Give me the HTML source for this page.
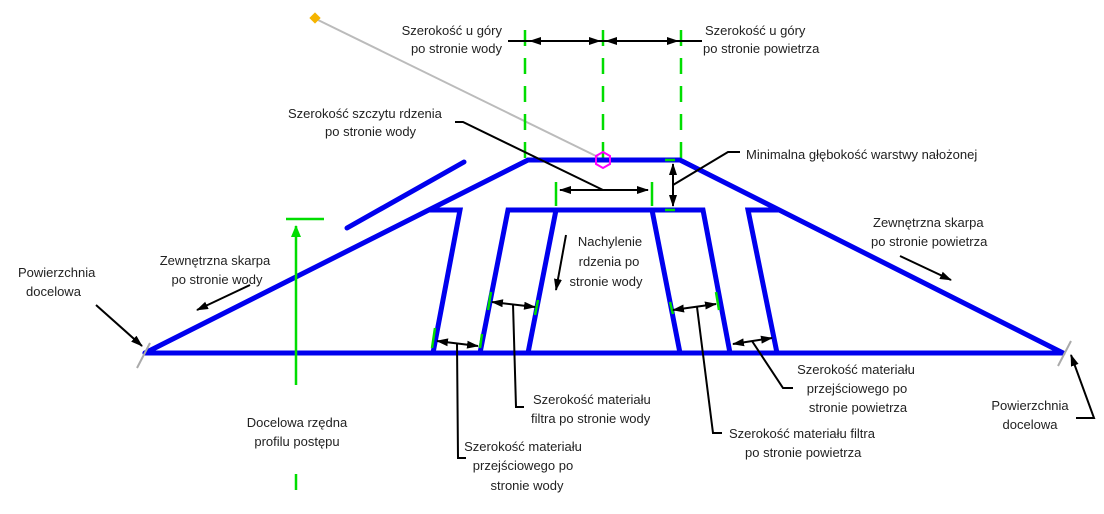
<!DOCTYPE html>
<html><head><meta charset="utf-8"><style>
html,body{margin:0;padding:0;background:#fff;}
svg{display:block;}
text{font-family:"Liberation Sans",sans-serif;font-size:13px;fill:#222;}
</style></head><body>
<svg width="1104" height="514" viewBox="0 0 1104 514" xmlns="http://www.w3.org/2000/svg">
<defs>
<marker id="a" viewBox="0 0 12 8" refX="11" refY="4" markerWidth="12" markerHeight="8" markerUnits="userSpaceOnUse" orient="auto-start-reverse"><path d="M0,0L12,4L0,8z" fill="#000"/></marker>
<marker id="g" viewBox="0 0 12 10" refX="11" refY="5" markerWidth="12" markerHeight="14" markerUnits="userSpaceOnUse" orient="auto"><path d="M0,0L12,5L0,10z" fill="#0d0"/></marker>
</defs>
<line x1="316" y1="19" x2="598" y2="157" stroke="#bbb" stroke-width="2"/>
<rect x="311" y="14" width="8" height="8" fill="#f5b400" transform="rotate(45 315 18)"/>
<g stroke="#0d0" stroke-width="2.5" stroke-dasharray="16 12">
<line x1="525" y1="30" x2="525" y2="160"/>
<line x1="603" y1="30" x2="603" y2="160"/>
<line x1="681" y1="30" x2="681" y2="160"/>
</g>
<g stroke="#000" stroke-width="2">
<line x1="508" y1="41" x2="702" y2="41"/>
<line x1="530" y1="41" x2="600" y2="41" marker-start="url(#a)" marker-end="url(#a)"/>
<line x1="606" y1="41" x2="678" y2="41" marker-start="url(#a)" marker-end="url(#a)"/>
</g>
<g stroke="#0000ee" stroke-width="5" fill="none" stroke-linejoin="miter" stroke-linecap="round">
<polyline points="145,353 528,160 680,160 1063,353"/>
<line x1="145" y1="353" x2="1063" y2="353"/>
<line x1="347" y1="228" x2="464" y2="162"/>
<polyline points="430,210 460,210 433,353"/>
<polyline points="480,353 508,210 703,210 730,353"/>
<line x1="556" y1="210" x2="528" y2="353"/>
<line x1="652" y1="210" x2="680" y2="353"/>
<polyline points="777,353 748,210 778,210"/>
</g>
<polygon points="603,152 610,156 610,164 603,168 596,164 596,156" fill="none" stroke="#f0f" stroke-width="2"/>
<line x1="150" y1="343" x2="137" y2="368" stroke="#aaa" stroke-width="2"/>
<line x1="1071" y1="341" x2="1058" y2="366" stroke="#aaa" stroke-width="2"/>
<g stroke="#0d0" stroke-width="2.5">
<line x1="556" y1="182" x2="556" y2="206"/>
<line x1="652" y1="182" x2="652" y2="206"/>
<line x1="665" y1="160" x2="675" y2="160"/>
<line x1="665" y1="210" x2="675" y2="210"/>
<line x1="435" y1="328" x2="432" y2="348"/>
<line x1="482" y1="334" x2="480" y2="348"/>
<line x1="491" y1="292" x2="488" y2="310"/>
<line x1="538" y1="300" x2="535" y2="315"/>
<line x1="670" y1="302" x2="673" y2="314"/>
<line x1="716" y1="292" x2="719" y2="310"/>
</g>
<g stroke="#000" stroke-width="2" fill="none">
<polyline points="455,122 463,122 603,190"/>
<line x1="560" y1="190" x2="648" y2="190" marker-start="url(#a)" marker-end="url(#a)"/>
<line x1="673" y1="164" x2="673" y2="206" marker-start="url(#a)" marker-end="url(#a)"/>
<polyline points="740,152 728,152 673,185"/>
<line x1="96" y1="305" x2="142" y2="346" marker-end="url(#a)"/>
<line x1="250" y1="285" x2="197" y2="310" marker-end="url(#a)"/>
<line x1="900" y1="256" x2="951" y2="280" marker-end="url(#a)"/>
<line x1="566" y1="235" x2="556" y2="290" marker-end="url(#a)"/>
<line x1="437" y1="341" x2="478" y2="346" marker-start="url(#a)" marker-end="url(#a)"/>
<polyline points="466,458 458,458 457,343"/>
<line x1="492" y1="302" x2="535" y2="307" marker-start="url(#a)" marker-end="url(#a)"/>
<polyline points="524,407 516,407 513,304"/>
<line x1="673" y1="310" x2="716" y2="304" marker-start="url(#a)" marker-end="url(#a)"/>
<polyline points="722,433 713,433 697,307"/>
<line x1="733" y1="344" x2="772" y2="338" marker-start="url(#a)" marker-end="url(#a)"/>
<polyline points="793,388 783,388 752,341"/>
<polyline points="1076,418 1094,418 1071,355" marker-end="url(#a)"/>
</g>
<g stroke="#0d0" stroke-width="2.5">
<line x1="286" y1="219" x2="324" y2="219"/>
<line x1="296" y1="385" x2="296" y2="226" marker-end="url(#g)"/>
<line x1="296" y1="474" x2="296" y2="502" stroke-dasharray="16 12"/>
</g>
<text x="502" y="35" text-anchor="end">Szerokość u góry</text>
<text x="502" y="53" text-anchor="end">po stronie wody</text>
<text x="705" y="35">Szerokość u góry</text>
<text x="703" y="53">po stronie powietrza</text>
<text x="288" y="118">Szerokość szczytu rdzenia</text>
<text x="325" y="136">po stronie wody</text>
<text x="746" y="159">Minimalna głębokość warstwy nałożonej</text>
<text x="873" y="227">Zewnętrzna skarpa</text>
<text x="871" y="246">po stronie powietrza</text>
<text x="215" y="265" text-anchor="middle">Zewnętrzna skarpa</text>
<text x="217" y="284" text-anchor="middle">po stronie wody</text>
<text x="18" y="277">Powierzchnia</text>
<text x="26" y="296">docelowa</text>
<text x="610" y="246" text-anchor="middle">Nachylenie</text>
<text x="609" y="266" text-anchor="middle">rdzenia po</text>
<text x="606" y="286" text-anchor="middle">stronie wody</text>
<text x="533" y="404">Szerokość materiału</text>
<text x="531" y="423">filtra po stronie wody</text>
<text x="729" y="438">Szerokość materiału filtra</text>
<text x="745" y="457">po stronie powietrza</text>
<text x="856" y="374" text-anchor="middle">Szerokość materiału</text>
<text x="857" y="393" text-anchor="middle">przejściowego po</text>
<text x="858" y="412" text-anchor="middle">stronie powietrza</text>
<text x="1030" y="410" text-anchor="middle">Powierzchnia</text>
<text x="1030" y="429" text-anchor="middle">docelowa</text>
<text x="297" y="427" text-anchor="middle">Docelowa rzędna</text>
<text x="297" y="446" text-anchor="middle">profilu postępu</text>
<text x="523" y="451" text-anchor="middle">Szerokość materiału</text>
<text x="523" y="470" text-anchor="middle">przejściowego po</text>
<text x="527" y="490" text-anchor="middle">stronie wody</text>
</svg>
</body></html>
